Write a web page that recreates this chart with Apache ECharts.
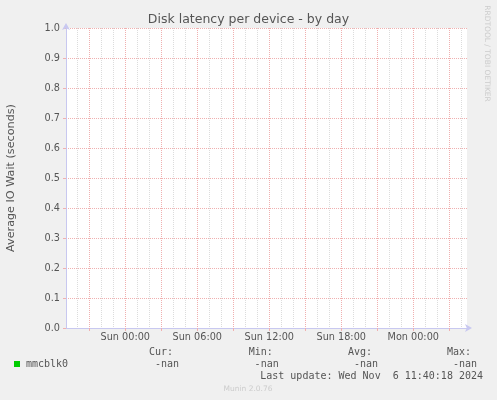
<!DOCTYPE html>
<html>
<head>
<meta charset="utf-8">
<script src="https://cdn.jsdelivr.net/npm/echarts@6/dist/echarts.min.js"></script>
<style>
html,body{margin:0;padding:0;background:#f0f0f0;}
#chart{width:497px;height:400px;}
</style>
</head>
<body>
<div id="chart"></div>
<script>
// ---- data ----
const chartTitle = 'Disk latency per device - by day';
const yAxisTitle = 'Average IO Wait (seconds)';
const seriesName = 'mmcblk0';
// hours relative to Sun 00:00
const xMin = -4.94;
const xMax = 28.48;
const labelHours = [0, 6, 12, 18, 24];
const labelTexts = ['Sun 00:00', 'Sun 06:00', 'Sun 12:00', 'Sun 18:00', 'Mon 00:00'];
const minorHours = [-4,-2,-1,1,2,4,5,7,8,10,11,13,14,16,17,19,20,22,23,25,26,28];
const majorHours = [-3,0,3,6,9,12,15,18,21,24,27];
const yMin = 0, yMax = 1, yStep = 0.1;
// no data (all values are nan)
const seriesTimes = [];
const seriesValues = [];
const statLabels = ['Cur:', 'Min:', 'Avg:', 'Max:'];
const statValues = ['-nan', '-nan', '-nan', '-nan'];
const lastUpdate = 'Last update: Wed Nov  6 11:40:18 2024';
const footer = 'Munin 2.0.76';
const sideText = 'RRDTOOL / TOBI OETIKER';

// ---- chart ----
const chart = echarts.init(document.getElementById('chart'), null, {renderer: 'canvas'});
const axisCol = '#c8c8f0';
const txtCol = '#555555';
const majCol = '#f0b0b0';
const minCol = '#dcdcdc';
const sans = 'DejaVu Sans';
const mono = 'DejaVu Sans Mono';
const statX = [149, 248.7, 348, 447];

const graphics = [
  {type: 'rect', z: -10, shape: {x: 66, y: 28, width: 401, height: 300}, style: {fill: '#ffffff'}, silent: true},
  {type: 'text', x: 11, y: 178, rotation: Math.PI / 2,
   style: {text: yAxisTitle, fill: txtCol, font: '11.2px "DejaVu Sans"', align: 'center', verticalAlign: 'middle'}},
  {type: 'text', x: 487, y: 53.5, rotation: -Math.PI / 2,
   style: {text: sideText, fill: '#cccccc', font: '7.5px "DejaVu Sans"', align: 'center', verticalAlign: 'middle'}},
  {type: 'text', x: 483, y: 376.5,
   style: {text: lastUpdate, fill: txtCol, font: '10px "DejaVu Sans Mono"', align: 'right', verticalAlign: 'middle'}},
  {type: 'text', x: 248, y: 389.5,
   style: {text: footer, fill: '#cccccc', font: '7.5px "DejaVu Sans"', align: 'center', verticalAlign: 'middle'}}
];
statLabels.forEach(function (s, i) {
  graphics.push({type: 'text', x: statX[i], y: 352.5,
    style: {text: s, fill: txtCol, font: '10px "DejaVu Sans Mono"', align: 'left', verticalAlign: 'middle'}});
  graphics.push({type: 'text', x: statX[i] + 30, y: 364.5,
    style: {text: statValues[i], fill: txtCol, font: '10px "DejaVu Sans Mono"', align: 'right', verticalAlign: 'middle'}});
});

const gridDef = {left: 66, top: 28, width: 401, height: 300, containLabel: false};

chart.setOption({
  backgroundColor: '#f0f0f0',
  animation: false,
  title: {
    text: chartTitle, left: 'center', top: 13, padding: 0,
    textStyle: {fontFamily: sans, fontSize: 12.5, fontWeight: 'normal', color: txtCol}
  },
  legend: {
    data: [seriesName], left: 14, top: 359, padding: 0,
    icon: 'rect', itemWidth: 6, itemHeight: 6, itemGap: 5,
    textStyle: {fontFamily: mono, fontSize: 10, color: txtCol, padding: [0, 0, 0, 1]}
  },
  grid: gridDef,
  xAxis: [
    {
      type: 'value', min: xMin, max: xMax, position: 'bottom',
      axisLine: {show: true, onZero: false, lineStyle: {color: axisCol, width: 1},
        symbol: ['none', 'arrow'], symbolSize: [6, 7], symbolOffset: [0, 5]},
      axisTick: {show: false, customValues: minorHours},
      splitLine: {show: true, lineStyle: {color: minCol, type: [1, 1], width: 1}},
      axisLabel: {customValues: labelHours, margin: 4, color: txtCol, fontFamily: sans, fontSize: 9.7,
        formatter: function (v) { const i = labelHours.indexOf(v); return i >= 0 ? labelTexts[i] : ''; }}
    },
    {
      type: 'value', min: xMin, max: xMax, position: 'bottom',
      axisLine: {show: false, onZero: false},
      axisTick: {show: true, customValues: majorHours, length: 3, inside: false,
        lineStyle: {color: majCol, width: 1}},
      splitLine: {show: true, lineStyle: {color: majCol, type: [1, 1], width: 1}},
      axisLabel: {show: false}
    }
  ],
  yAxis: {
    type: 'value', min: yMin, max: yMax, interval: yStep,
    axisLine: {show: true, onZero: false, lineStyle: {color: axisCol, width: 1},
      symbol: ['none', 'arrow'], symbolSize: [6, 7], symbolOffset: [0, 5]},
    axisTick: {show: true, length: 3, lineStyle: {color: majCol}},
    splitLine: {show: true, lineStyle: {color: majCol, type: [1, 1], width: 1}},
    axisLabel: {margin: 6, color: txtCol, fontFamily: sans, fontSize: 9.7,
      formatter: function (v) { return v.toFixed(1); }}
  },
  series: [{
    name: seriesName, type: 'line', xAxisIndex: 0, showSymbol: false,
    itemStyle: {color: '#00cc00'}, lineStyle: {color: '#00cc00', width: 1},
    data: seriesTimes.map(function (t, i) { return [t, seriesValues[i]]; })
  }],
  graphic: graphics
});
</script>
</body>
</html>
